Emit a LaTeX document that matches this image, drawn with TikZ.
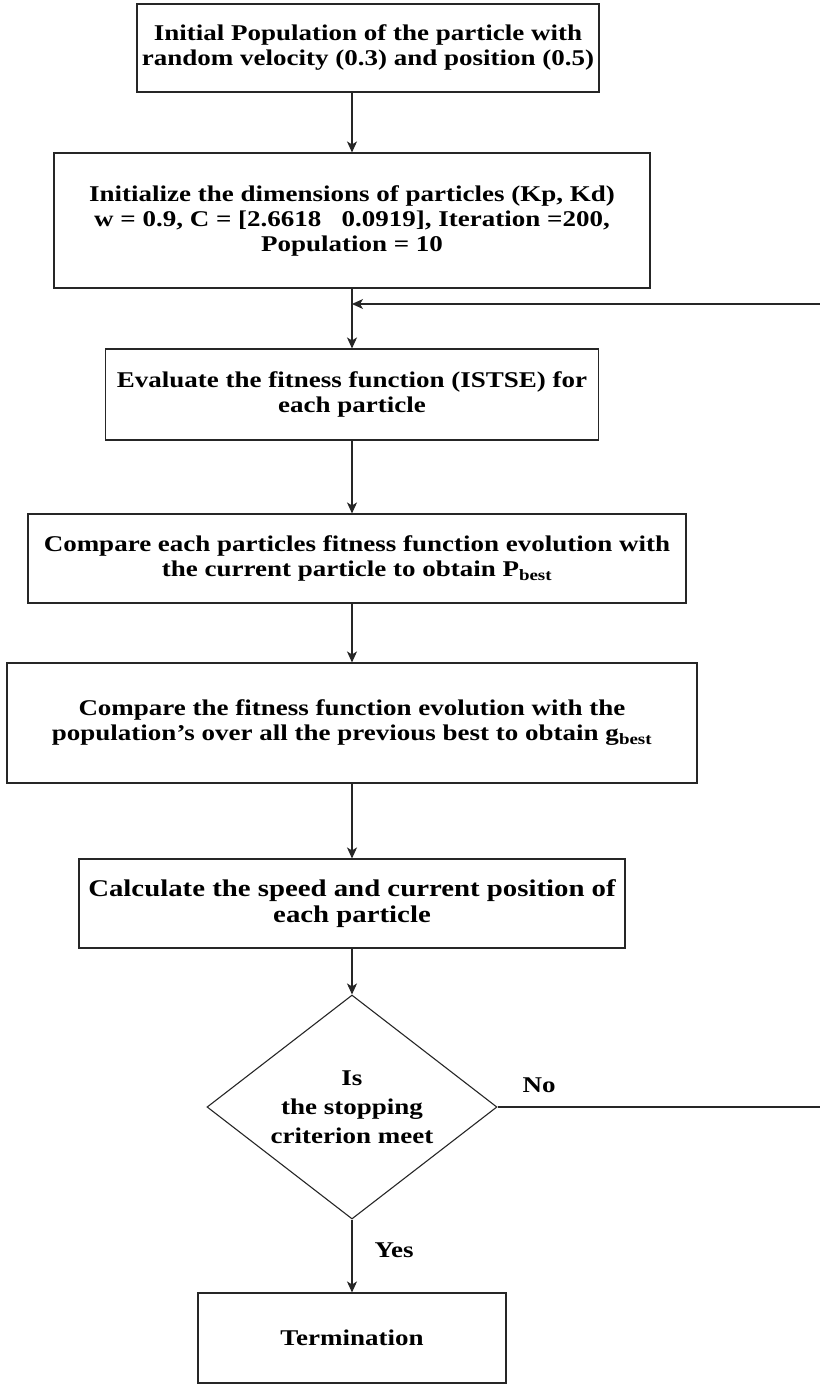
\documentclass[tikz,border=0pt]{standalone}
\usepackage{fontspec}
\setmainfont{Liberation Serif}[FakeStretch=1.2]
\usetikzlibrary{arrows.meta,shapes.geometric}

\tikzset{
  stepbox/.style={draw=black!85, line width=1.1pt, align=center, inner sep=0pt,
    font=\bfseries\fontsize{22.5}{25}\selectfont},
  decide/.style={diamond, draw=black!85, line width=1.1pt, align=center, inner sep=0pt,
    aspect=1.3, font=\bfseries\fontsize{22.5}{29}\selectfont},
  flow/.style={draw=black!85, line width=1.1pt, -{Stealth[length=11pt,width=10pt,inset=3pt]}},
  link/.style={draw=black!85, line width=1.1pt},
  tag/.style={font=\bfseries\fontsize{22.5}{25}\selectfont},
}

\begin{document}
\begin{tikzpicture}[x=1pt,y=-1pt]
\useasboundingbox (0,0) rectangle (819,1388);

% steps of the swarm search
\node[stepbox, minimum width=462, minimum height=88] (init) at (368,48)
  {Initial Population of the particle with\\random velocity (0.3) and position (0.5)};
\node[stepbox, minimum width=596, minimum height=135] (dims) at (352,220.5)
  {Initialize the dimensions of particles (Kp, Kd)\\w = 0.9, C = [2.6618\ \ \ 0.0919], Iteration =200,\\Population = 10};
\node[stepbox, minimum width=493, minimum height=91] (eval) at (352,394.5)
  {Evaluate the fitness function (ISTSE) for\\each particle};
\node[stepbox, minimum width=658, minimum height=89] (pbest) at (357,558.5)
  {Compare each particles fitness function evolution with\\the current particle to obtain P\textsubscript{best}};
\node[stepbox, minimum width=690, minimum height=120] (gbest) at (352,723)
  {Compare the fitness function evolution with the\\population's over all the previous best to obtain g\textsubscript{best}};
\node[stepbox, minimum width=546, minimum height=89, font=\bfseries\fontsize{24}{26}\selectfont] (speed) at (352,903.5)
  {Calculate the speed and current position of\\each particle};
\node[decide, minimum width=290, minimum height=224] (stop) at (352,1107)
  {Is\\the stopping\\criterion meet};
\node[stepbox, minimum width=308, minimum height=90] (term) at (352,1338)
  {Termination};

% loop back
\coordinate (merge) at (352,304);
\coordinate (loop) at (822,1107);

\draw[flow] (init.south -| stop.north) -- (dims.north -| stop.north);
\draw[link] (dims.south -| stop.north) -- (merge);
\draw[flow] (merge) -- (eval.north);
\draw[flow] (eval.south) -- (pbest.north -| eval.south);
\draw[flow] (pbest.south -| eval.south) -- (gbest.north);
\draw[flow] (gbest.south) -- (speed.north);
\draw[flow] (speed.south) -- (stop.north);
\draw[flow] (stop.south) -- (term.north);
\draw[flow] (stop.east) -- (loop) |- (merge);

\node[tag] (no) at (539,1085) {No};
\node[tag] (yes) at (394,1250) {Yes};

\end{tikzpicture}
\end{document}
